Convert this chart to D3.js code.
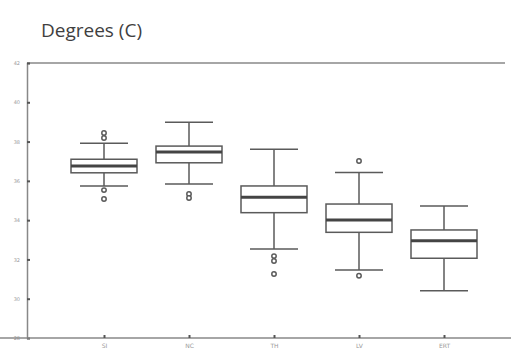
<!DOCTYPE html>
<html>
<head>
<meta charset="utf-8">
<script src="https://cdn.jsdelivr.net/npm/d3@7"></script>
<style>
  body { margin: 0; background: #fff; }
  svg { display: block; }
</style>
</head>
<body>
<svg id="chart" width="511" height="353"></svg>
<script>
// box stats
const stations = ["SI", "NC", "TH", "LV", "ERT"];
const lowWhisker = [35.74, 35.84, 32.53, 31.46, 30.41];
const q1 = [36.41, 36.92, 34.38, 33.38, 32.06];
const medians = [36.76, 37.47, 35.16, 34.01, 32.95];
const q3 = [37.10, 37.77, 35.74, 34.82, 33.50];
const highWhisker = [37.91, 38.98, 37.61, 36.43, 34.72];
const outliers = [
  [38.44, 38.18, 35.53, 35.08],
  [35.33, 35.13],
  [32.17, 31.92, 31.26],
  [37.01, 31.17],
  []
];
const yTicks = [28, 30, 32, 34, 36, 38, 40, 42];

const svg = d3.select("#chart");
const width = 511, height = 353;
const margin = {top: 63, right: 0, bottom: 15, left: 27};

const x = d3.scalePoint()
  .domain(stations)
  .range([margin.left + 77, margin.left + 417]);

const y = d3.scaleLinear()
  .domain([28, 42])
  .range([height - margin.bottom, margin.top]);

const ink = "#5a5a5a";

// title
svg.append("text")
  .attr("x", 41)
  .attr("y", 37)
  .attr("font-family", "Open Sans, sans-serif")
  .attr("font-size", 19)
  .attr("fill", "#3f3f3f")
  .text("Degrees (C)");

// frame lines
svg.append("line")
  .attr("x1", margin.left).attr("x2", width - 6)
  .attr("y1", y(42)).attr("y2", y(42))
  .attr("stroke", "#888").attr("stroke-width", 1.5);

const gy = svg.append("g")
  .attr("transform", `translate(${margin.left},0)`)
  .call(d3.axisLeft(y).tickValues(yTicks).tickSize(-3).tickPadding(7).tickFormat(d3.format("d")));
gy.select(".domain").attr("stroke", "#888").attr("stroke-width", 1.5);
gy.selectAll(".tick line").attr("stroke", "#555").attr("stroke-width", 2);
gy.selectAll(".tick text")
  .attr("font-family", "DejaVu Sans, sans-serif")
  .attr("font-size", 5)
  .attr("fill", "#999");

const gx = svg.append("g")
  .attr("transform", `translate(0,${y(28)})`)
  .call(d3.axisBottom(x).tickSize(-3).tickPadding(6).tickSizeOuter(0));
gx.select(".domain")
  .attr("d", `M0,0H${width}`)
  .attr("stroke", "#888").attr("stroke-width", 1.5);
gx.selectAll(".tick line").attr("stroke", "#555").attr("stroke-width", 2);
gx.selectAll(".tick text")
  .attr("font-family", "DejaVu Sans, sans-serif")
  .attr("font-size", 6)
  .attr("fill", "#999");

// boxes
const boxW = 66, capW = 48;
const boxes = svg.append("g")
  .selectAll("g")
  .data(stations)
  .join("g")
  .attr("transform", d => `translate(${x(d)},0)`);

boxes.append("line")
  .attr("y1", (d, i) => y(highWhisker[i]))
  .attr("y2", (d, i) => y(q3[i]))
  .attr("stroke", ink).attr("stroke-width", 1.5);
boxes.append("line")
  .attr("y1", (d, i) => y(q1[i]))
  .attr("y2", (d, i) => y(lowWhisker[i]))
  .attr("stroke", ink).attr("stroke-width", 1.5);

boxes.append("line")
  .attr("x1", -capW / 2).attr("x2", capW / 2)
  .attr("y1", (d, i) => y(highWhisker[i])).attr("y2", (d, i) => y(highWhisker[i]))
  .attr("stroke", ink).attr("stroke-width", 1.5);
boxes.append("line")
  .attr("x1", -capW / 2).attr("x2", capW / 2)
  .attr("y1", (d, i) => y(lowWhisker[i])).attr("y2", (d, i) => y(lowWhisker[i]))
  .attr("stroke", ink).attr("stroke-width", 1.5);

boxes.append("rect")
  .attr("x", -boxW / 2)
  .attr("width", boxW)
  .attr("y", (d, i) => y(q3[i]))
  .attr("height", (d, i) => y(q1[i]) - y(q3[i]))
  .attr("fill", "#fff")
  .attr("stroke", ink).attr("stroke-width", 1.5);

boxes.append("line")
  .attr("x1", -boxW / 2).attr("x2", boxW / 2)
  .attr("y1", (d, i) => y(medians[i])).attr("y2", (d, i) => y(medians[i]))
  .attr("stroke", "#444").attr("stroke-width", 3);

boxes.each(function(d, i) {
  d3.select(this).selectAll("circle")
    .data(outliers[i])
    .join("circle")
    .attr("cx", 0)
    .attr("cy", v => y(v))
    .attr("r", 2.2)
    .attr("fill", "#fff")
    .attr("stroke", ink).attr("stroke-width", 1.5);
});
</script>
</body>
</html>
